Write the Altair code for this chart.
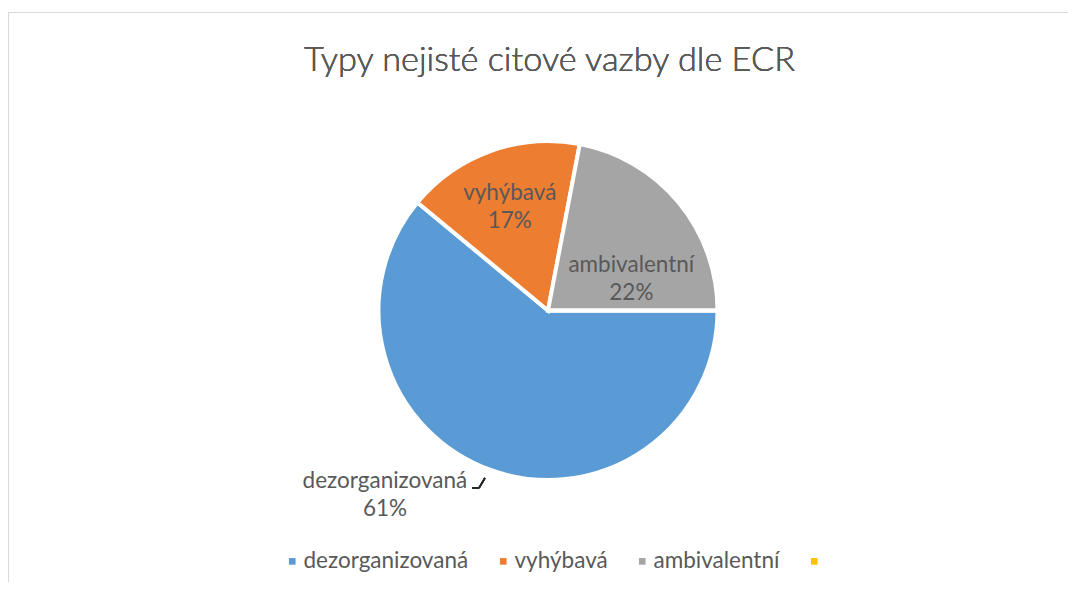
import math
import altair as alt
import pandas as pd

categories = ["dezorganizovaná", "vyhýbavá", "ambivalentní", " "]
values = [61, 17, 22, 0]
colors = ["#5B9BD5", "#ED7D31", "#A5A5A5", "#FFC000"]
title_text = "Typy nejisté citové vazby dle ECR"

df = pd.DataFrame({"cat": categories, "value": values, "idx": list(range(len(categories)))})

W, H = 1060, 574
CX, CY, R = 540, 302.5, 169.5
FONT = "Lato"
GRAY = "#595959"
BORDER = "#D9D9D9"
LABEL_SIZE = 22.5

theta_scale = alt.Scale(domain=[0, sum(values)], range=[math.pi / 2, math.pi / 2 + 2 * math.pi])
color_scale = alt.Scale(domain=categories, range=colors)

base = alt.Chart(df)

pie = base.mark_arc(radius=R, stroke="white", strokeWidth=4).encode(
    theta=alt.Theta("value:Q", stack=True, scale=theta_scale),
    order=alt.Order("idx:Q"),
    color=alt.Color(
        "cat:N",
        scale=color_scale,
        sort=categories,
        legend=alt.Legend(
            orient="none",
            legendX=273,
            legendY=542,
            direction="horizontal",
            columns=4,
            title=None,
            symbolType="square",
            symbolSize=44,
            symbolStrokeWidth=0,
            labelFont=FONT,
            labelFontSize=LABEL_SIZE,
            labelColor=GRAY,
            labelLimit=400,
            columnPadding=23,
            labelOffset=0,
            padding=0,
        ),
    ),
    x=alt.value(CX),
    y=alt.value(CY),
)


def label_layer(cat, r, dx, dy):
    return (
        base.transform_window(cum="sum(value)", sort=[alt.SortField("idx")], frame=[None, 0])
        .transform_calculate(
            mid="datum.cum - datum.value / 2",
            label="datum.cat + '\\n' + datum.value + '%'",
        )
        .transform_filter(alt.datum.cat == cat)
        .mark_text(
            radius=r, dx=dx, dy=dy, font=FONT, fontSize=LABEL_SIZE, color=GRAY,
            lineBreak="\n", lineHeight=28, align="center", baseline="middle",
        )
        .encode(
            theta=alt.Theta("mid:Q", scale=theta_scale, stack=False),
            text="label:N",
            x=alt.value(CX),
            y=alt.value(CY),
        )
    )


lab1 = label_layer("vyhýbavá", 110, -1, -14)
lab2 = label_layer("ambivalentní", 90, 14, 12)
lab3 = label_layer("dezorganizovaná", 195, -97, -13)

leader1 = base.mark_rule(color="#262626", strokeWidth=1.5).encode(
    x=alt.value(464), x2=alt.value(471), y=alt.value(480), y2=alt.value(480)
)
leader2 = base.mark_rule(color="#262626", strokeWidth=1.5).encode(
    x=alt.value(471), x2=alt.value(477), y=alt.value(480), y2=alt.value(470)
)

top_border = base.mark_rule(color=BORDER, strokeWidth=1).encode(
    x=alt.value(0), x2=alt.value(W), y=alt.value(4.5), y2=alt.value(4.5)
)
left_border = base.mark_rule(color=BORDER, strokeWidth=1).encode(
    x=alt.value(0.5), x2=alt.value(0.5), y=alt.value(4), y2=alt.value(H)
)

title = base.mark_text(
    text=title_text, font=FONT, fontSize=34.3, fontWeight=300, color=GRAY,
    align="center", baseline="alphabetic",
).encode(x=alt.value(541.5), y=alt.value(63))

chart = (
    alt.layer(top_border, left_border, pie, lab1, lab2, lab3, leader1, leader2, title)
    .properties(width=W, height=H, autosize=alt.AutoSizeParams(type="none"), padding=0)
    .configure_view(strokeWidth=0)
)

chart.save("out.html", embed_options={"renderer": "svg", "actions": False})
